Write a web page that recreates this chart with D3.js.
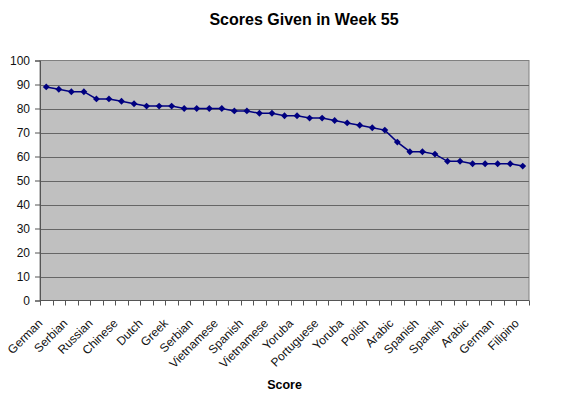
<!DOCTYPE html>
<html>
<head>
<meta charset="utf-8">
<script src="https://cdn.jsdelivr.net/npm/d3@7"></script>
<style>
  body { margin: 0; background: #fff; }
  svg { display: block; font-family: Arial, "Liberation Sans", sans-serif; }
</style>
</head>
<body>
<svg width="581" height="398"></svg>
<script>
// scores, one per entry (39 points)
const scores = [89, 88, 87, 87, 84, 84, 83, 82, 81, 81, 81, 80, 80, 80, 80, 79, 79, 78, 78, 77,
  77, 76, 76, 75, 74, 73, 72, 71, 66, 62, 62, 61, 58, 58, 57, 57, 57, 57, 56]
// only every other category label is printed on the chart
const labels = ['German', null, 'Serbian', null, 'Russian', null, 'Chinese', null, 'Dutch', null,
  'Greek', null, 'Serbian', null, 'Vietnamese', null, 'Spanish', null, 'Vietnamese', null,
  'Yoruba', null, 'Portuguese', null, 'Yoruba', null, 'Polish', null, 'Arabic', null,
  'Spanish', null, 'Spanish', null, 'Arabic', null, 'German', null, 'Filipino']
const yTicks = [0, 10, 20, 30, 40, 50, 60, 70, 80, 90, 100]
const title = 'Scores Given in Week 55'
const xTitle = 'Score'

const svg = d3.select('svg')
const plotLeft = 40, plotRight = 529, plotTop = 60.5, plotBottom = 300.5

const x = d3.scaleBand()
    .domain(d3.range(scores.length))
    .range([plotLeft, plotRight])
const y = d3.scaleLinear()
    .domain([0, 100])
    .range([plotBottom, plotTop])

// plot area
svg.append('rect')
    .attr('x', plotLeft).attr('y', plotTop)
    .attr('width', plotRight - plotLeft).attr('height', plotBottom - plotTop)
    .attr('fill', '#c0c0c0')
    .attr('stroke', '#808080')
    .attr('stroke-width', 1)

// gridlines
svg.append('g')
    .selectAll('line')
    .data(yTicks.filter(d => d > 0 && d < 100))
    .enter().append('line')
        .attr('x1', plotLeft).attr('x2', plotRight)
        .attr('y1', d => Math.round(y(d)) + 0.5)
        .attr('y2', d => Math.round(y(d)) + 0.5)
        .attr('stroke', '#666')
        .attr('stroke-width', 1)

// y axis
const yAxis = svg.append('g')
    .attr('transform', `translate(${plotLeft},0)`)
    .call(d3.axisLeft(y).tickValues(yTicks).tickSize(5).tickPadding(5))
yAxis.select('.domain').attr('stroke', '#555')
yAxis.selectAll('.tick line').attr('stroke', '#555')
yAxis.selectAll('text').attr('font-size', 12).attr('fill', '#111')

// x axis: ticks sit between categories
const xAxis = svg.append('g')
    .attr('transform', `translate(0,${plotBottom})`)
xAxis.append('line')
    .attr('x1', plotLeft).attr('x2', plotRight)
    .attr('stroke', '#555')
xAxis.selectAll('.xt')
    .data(d3.range(scores.length + 1))
    .enter().append('line')
        .attr('class', 'xt')
        .attr('x1', i => Math.round(plotLeft + i * x.step()) + 0.5)
        .attr('x2', i => Math.round(plotLeft + i * x.step()) + 0.5)
        .attr('y1', 0).attr('y2', 5)
        .attr('stroke', '#555')
xAxis.selectAll('.xl')
    .data(labels.map((d, i) => ({ d, i })).filter(o => o.d))
    .enter().append('text')
        .attr('class', 'xl')
        .attr('text-anchor', 'end')
        .attr('font-size', 12)
        .attr('fill', '#111')
        .attr('transform', o => `translate(${x(o.i) + x.bandwidth() / 2 - 3},23.5) rotate(-45)`)
        .text(o => o.d)

// line + markers
const line = d3.line()
    .x((d, i) => x(i) + x.bandwidth() / 2)
    .y(d => y(d))
svg.append('path')
    .datum(scores)
    .attr('d', line)
    .attr('fill', 'none')
    .attr('stroke', '#000080')
    .attr('stroke-width', 1.5)
svg.append('g')
    .selectAll('path')
    .data(scores)
    .enter().append('path')
        .attr('d', d3.symbol(d3.symbolDiamond2, 30))
        .attr('transform', (d, i) => `translate(${x(i) + x.bandwidth() / 2},${y(d)})`)
        .attr('fill', '#000080')

// titles
svg.append('text')
    .attr('x', 304).attr('y', 25)
    .attr('text-anchor', 'middle')
    .attr('font-size', 16)
    .attr('font-weight', 'bold')
    .text(title)
svg.append('text')
    .attr('x', 284.5).attr('y', 389)
    .attr('text-anchor', 'middle')
    .attr('font-size', 12.5)
    .attr('font-weight', 'bold')
    .text(xTitle)
</script>
</body>
</html>
